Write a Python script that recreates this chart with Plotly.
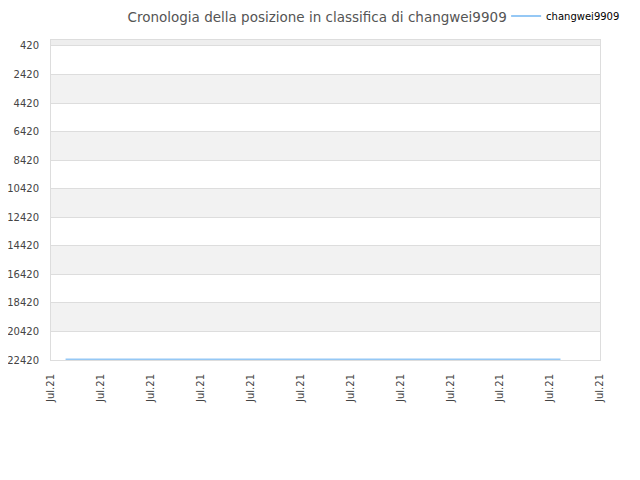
import plotly.graph_objects as go

# ---------------------------------------------------------------------------
# Data
# ---------------------------------------------------------------------------
player = "changwei9909"
dates = ["2021-07-01 07:00", "2021-07-11 05:00"]
ranks = [22380, 22380]

y_ticks = [420, 2420, 4420, 6420, 8420, 10420, 12420, 14420, 16420, 18420, 20420, 22420]
y_top = 0
x_range = ["2021-07-01", "2021-07-12"]

FONT = "DejaVu Sans, Verdana, sans-serif"
TXT = "#444444"

fig = go.Figure()
fig.add_trace(go.Scatter(
    x=dates, y=ranks, mode="lines", name=player,
    line=dict(color="#95c8f5", width=2),
))

# alternating gray bands between y ticks
bands = [(y_top, y_ticks[0])] + [(y_ticks[i], y_ticks[i + 1]) for i in range(1, len(y_ticks) - 1, 2)]
for k, (a, b) in enumerate(bands):
    fig.add_shape(type="rect", xref="paper", x0=0, x1=1, y0=a, y1=b,
                  fillcolor="#eeeeee" if k == 0 else "#f2f2f2", line_width=0, layer="below")

fig.update_layout(
    width=640, height=480,
    margin=dict(l=43, r=48, t=32, b=128, autoexpand=False),
    paper_bgcolor="#ffffff", plot_bgcolor="#ffffff",
    font=dict(family=FONT, size=10, color=TXT),
    title=dict(text="Cronologia della posizione in classifica di " + player,
               x=0.483, xanchor="center", y=0.981, yanchor="middle",
               font=dict(size=13.5, color="#555555")),
    showlegend=True,
    legend=dict(x=0.829, xanchor="left", y=1.075, yanchor="middle", orientation="h",
                font=dict(size=10, color="#000000"), bgcolor="rgba(0,0,0,0)",
                itemwidth=30),
    xaxis=dict(type="date", range=x_range, dtick=86400000, tickformat="%b.%y",
               tickangle=-90, showgrid=False, showline=True, linecolor="#dddddd",
               mirror=True, ticks="", ticklabelstandoff=9,
               tickfont=dict(size=10, color=TXT)),
    yaxis=dict(range=[y_ticks[-1], y_top], tickvals=y_ticks,
               ticktext=[str(v) for v in y_ticks], showgrid=True,
               gridcolor="#dddddd", showline=True, linecolor="#dddddd", mirror=True,
               zeroline=False, ticks="", ticklabelstandoff=9,
               tickfont=dict(size=10, color=TXT)),
)

fig.write_html("out.html")
